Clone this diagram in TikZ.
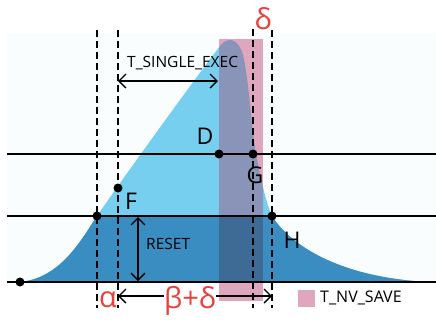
\documentclass[tikz,border=0pt]{standalone}
\usepackage{fontspec}
\setmainfont{Open Sans}
\usepackage{tikz}
\usetikzlibrary{arrows.meta}
\definecolor{skyblue}{RGB}{118,207,239}
\definecolor{deepblue}{RGB}{58,141,192}
\definecolor{nvpink}{RGB}{222,167,190}
\definecolor{mauve}{RGB}{138,147,184}
\definecolor{deepmauve}{RGB}{62,106,150}
\definecolor{greekred}{RGB}{233,64,60}
\definecolor{paper}{RGB}{250,253,254}
\tikzset{
  level/.style={line width=2pt},
  guide/.style={line width=1.6pt, dash pattern=on 7pt off 4pt},
  dot/.style={circle, fill, inner sep=0pt, minimum size=9pt},
  span/.style={line width=1.4pt, {Straight Barb[length=7pt,width=14pt]}-{Straight Barb[length=7pt,width=14pt]}},
  halfspan/.style={line width=1.4pt, {Straight Barb[length=7pt,width=14pt]}-},
  ptlabel/.style={inner sep=0pt, font=\fontsize{23}{23}\selectfont},
  tag/.style={inner sep=0pt, font=\fontsize{15.5}{16}\selectfont},
  greek/.style={inner sep=0pt, text=greekred, font=\fontsize{29}{29}\selectfont},
}
\def\pulse{(20,282) .. controls (60,278) and (80,242) .. (97,216)
  .. controls (130,168) and (200,72) .. (220,46)
  .. controls (228,36) and (238,38) .. (243,55)
  .. controls (249,80) and (251,125) .. (256,154)
  .. controls (260,175) and (265,200) .. (272,216)
  .. controls (290,245) and (340,278) .. (430,282) -- cycle}

\begin{document}
\begin{tikzpicture}[x=1pt, y=-1pt]
    \useasboundingbox (0,0) rectangle (436,322);
    \fill[paper] (7,33) rectangle (436,283);
    % area under the pulse
    \fill[skyblue] \pulse;
    \begin{scope}
        \clip (0,216) rectangle (436,283);
        \fill[deepblue] \pulse;
    \end{scope}
    % save window
    \fill[nvpink] (219,39) rectangle (263,301);
    \begin{scope}
        \clip (219,39) rectangle (263,301);
        \fill[mauve] \pulse;
        \clip (0,216) rectangle (436,283);
        \fill[deepmauve] \pulse;
    \end{scope}

    % levels
    \coordinate (topW) at (7,154);  \coordinate (topE) at (436,154);
    \coordinate (midW) at (7,216);  \coordinate (midE) at (436,216);
    \coordinate (botW) at (7,282);  \coordinate (botE) at (436,282);
    \draw[level] (topW) -- (topE);
    \draw[level] (midW) -- (midE);
    \draw[level] (botW) -- (botE);

    % time guides
    \foreach \gx/\gy in {97/30, 118/30, 253/29, 272/30}
        \draw[guide] (\gx,\gy) -- (\gx,308);

    % points
    \node[dot] (S) at (20,282) {};
    \node[dot] (A) at (97,216) {};
    \node[dot] (F) at (118,188) {};
    \node[dot] (D) at (219,154) {};
    \node[dot] (G) at (253,154) {};
    \node[dot] (H) at (272,216) {};
    \node[ptlabel] (Fl) at (131,201) {F};
    \node[ptlabel] (Dl) at (205,136) {D};
    \node[ptlabel] (Gl) at (255,175) {G};
    \node[ptlabel] (Hl) at (292,240) {H};

    % durations
    \coordinate (execL) at (118,81);
    \coordinate (execR) at (218,81);
    \draw[span] (execL) -- (execR);
    \node[tag, anchor=west] (exec) at (127,63) {T\_SINGLE\_EXEC};

    \coordinate (resetT) at (138,217);
    \coordinate (resetB) at (138,281);
    \draw[span] (resetT) -- (resetB);
    \node[tag, anchor=west] (reset) at (146,244) {RESET};

    \node[greek] (alpha) at (108,300) {α};
    \node[greek] (delta) at (263,19) {δ};
    \node[greek] (bd) at (190,301) {β+δ};
    \coordinate (bdL) at (118,296);
    \coordinate (bdR) at (272,296);
    \draw[halfspan] (bdL) -- (bd.west |- bdL);
    \draw[halfspan] (bdR) -- (bd.east |- bdR);

    % legend
    \node[fill=nvpink, minimum size=17pt, inner sep=0pt] (key) at (306.5,298) {};
    \node[inner sep=0pt, anchor=west, font=\fontsize{16}{16}\selectfont] (keytext) at (320,298) {T\_NV\_SAVE};
\end{tikzpicture}
\end{document}
